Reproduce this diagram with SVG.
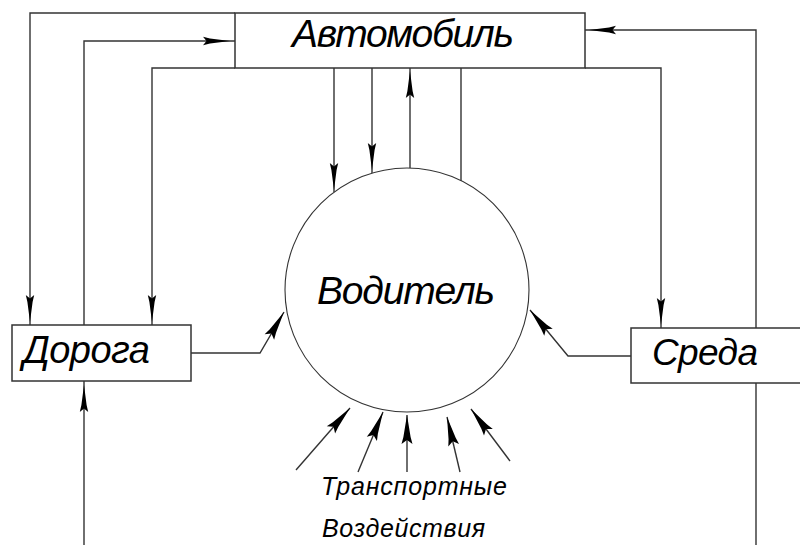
<svg xmlns="http://www.w3.org/2000/svg" xmlns:xlink="http://www.w3.org/1999/xlink" width="800" height="545" viewBox="0 0 800 545">
<style>
.box{fill:#fff;stroke:#333;stroke-width:1.5}
.ln{fill:none;stroke:#333;stroke-width:1.4}
.circ{fill:#fff;stroke:#333;stroke-width:1.1}
.lbl{font-family:"Liberation Sans",Arial,sans-serif;font-style:italic;fill:#000}
.ah{fill:#000}
</style>
<defs>
<path id="ah" d="M0,0 L-20,-2.6 L-27,-4.2 L-23.5,0 L-27,4.2 L-20,2.6 Z"/>
<path id="ahb" d="M0,0 L-22,-3.6 L-29,-5.5 L-25,0 L-29,5.5 L-22,3.6 Z"/>
</defs>
<rect width="800" height="545" fill="#fff"/>
<g id="connectors">
<polyline class="ln" points="235,13 30,13 30,325"/>
<polyline class="ln" points="84,325 84,41 235,41"/>
<polyline class="ln" points="235,68 152,68 152,325"/>
<line class="ln" x1="334" y1="68" x2="334" y2="192"/>
<line class="ln" x1="372" y1="68" x2="372" y2="173"/>
<line class="ln" x1="410" y1="168" x2="410" y2="68"/>
<line class="ln" x1="461" y1="68" x2="461" y2="181"/>
<polyline class="ln" points="585,68 661,68 661,328"/>
<polyline class="ln" points="756,328 756,30 585,30"/>
<polyline class="ln" points="191,353 260,353 284,312"/>
<polyline class="ln" points="631,356 568,356 530,310"/>
<line class="ln" x1="84" y1="545" x2="84" y2="381"/>
<line class="ln" x1="756" y1="383" x2="756" y2="545"/>
<line class="ln" x1="296" y1="470" x2="350" y2="408"/>
<line class="ln" x1="358" y1="472" x2="383" y2="412"/>
<line class="ln" x1="407" y1="472" x2="407" y2="415"/>
<line class="ln" x1="460" y1="472" x2="447" y2="417"/>
<line class="ln" x1="510" y1="461" x2="471" y2="409"/>
<use xlink:href="#ah" class="ah" transform="translate(30,322) rotate(90)"/>
<use xlink:href="#ah" class="ah" transform="translate(230,41)"/>
<use xlink:href="#ah" class="ah" transform="translate(152,322) rotate(90)"/>
<use xlink:href="#ah" class="ah" transform="translate(334,190) rotate(90)"/>
<use xlink:href="#ah" class="ah" transform="translate(372,170) rotate(90)"/>
<use xlink:href="#ah" class="ah" transform="translate(410,71) rotate(-90)"/>
<use xlink:href="#ah" class="ah" transform="translate(661,325) rotate(90)"/>
<use xlink:href="#ah" class="ah" transform="translate(589,30) rotate(180)"/>
<use xlink:href="#ah" class="ah" transform="translate(84,385) rotate(-90)"/>
<use xlink:href="#ahb" class="ah" transform="translate(284,312) rotate(-59.7)"/>
<use xlink:href="#ahb" class="ah" transform="translate(530,310) rotate(-129.6)"/>
<use xlink:href="#ahb" class="ah" transform="translate(350,408) rotate(-48.9)"/>
<use xlink:href="#ahb" class="ah" transform="translate(383,412) rotate(-67.4)"/>
<use xlink:href="#ahb" class="ah" transform="translate(407,415) rotate(-90)"/>
<use xlink:href="#ahb" class="ah" transform="translate(447,417) rotate(-103.3)"/>
<use xlink:href="#ahb" class="ah" transform="translate(471,409) rotate(-126.9)"/>
</g>
<g id="node-avtomobil">
<rect class="box" x="235" y="13" width="350" height="55"/>
<text class="lbl" x="292" y="47" font-size="39" textLength="222" lengthAdjust="spacing">Автомобиль</text>
</g>
<g id="node-voditel">
<circle class="circ" cx="407" cy="290" r="122"/>
<text class="lbl" x="317" y="304" font-size="39" textLength="178" lengthAdjust="spacing">Водитель</text>
</g>
<g id="node-doroga">
<rect class="box" x="12" y="325" width="179" height="56"/>
<text class="lbl" x="23" y="363" font-size="38" textLength="127" lengthAdjust="spacing">Дорога</text>
</g>
<g id="node-sreda">
<rect class="box" x="631" y="328" width="172" height="55"/>
<text class="lbl" x="652" y="365" font-size="37" textLength="106" lengthAdjust="spacing">Среда</text>
</g>
<g id="label-transport">
<text class="lbl" x="321" y="495" font-size="25" textLength="186" lengthAdjust="spacing">Транспортные</text>
<text class="lbl" x="322" y="537" font-size="25" textLength="163" lengthAdjust="spacing">Воздействия</text>
</g>
</svg>
